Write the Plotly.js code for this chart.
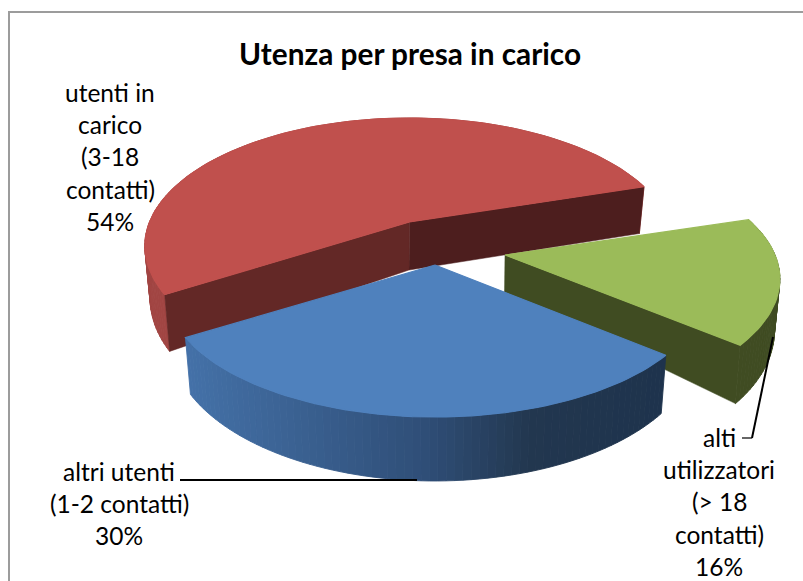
<!DOCTYPE html>
<html>
<head>
<meta charset="utf-8">
<script src="https://cdn.plot.ly/plotly-3.0.1.min.js"></script>
<style>html,body{margin:0;padding:0;background:#fff;overflow:hidden}#chart{width:803px;height:581px}</style>
</head>
<body>
<div id="chart"></div>
<script>
// ---- data ----
const categories = ["altri utenti (1-2 contatti)", "utenti in carico (3-18 contatti)", "alti utilizzatori (> 18 contatti)"];
const values = [30, 54, 16];
const chartTitle = "Utenza per presa in carico";
const labelLines = [
  ["altri utenti", "(1-2 contatti)", "30%"],
  ["utenti in", "carico", "(3-18", "contatti)", "54%"],
  ["alti", "utilizzatori", "(> 18", "contatti)", "16%"]
];

// ---- styles and geometry of the projection ----
const FONT = "Lato, Carlito, 'Open Sans', sans-serif";
const topColors = ["#4F81BD", "#C0504D", "#9BBB59"];
const wallStops = [
  [[0, "#4471A8"], [0.5, "#2F4E77"], [0.72, "#22374F"], [1, "#1E334D"]],
  [[0, "#A14543"], [1, "#A14543"]],
  [[0, "#404C22"], [1, "#404C22"]]
];
// visible cut faces: colour of the face at the start angle and at the end angle (null = hidden)
const cutStart = [null, "#632826", null];
const cutEnd = [null, "#4D1E1E", "#404C22"];
const apex = [[435, 265], [409.5, 222], [505, 255]];
const startAngle = 130;      // degrees clockwise from 12 o'clock, where the first slice begins
const radius = [265, 260, 270];
const K = 123.5, P = 0.1875;
const apexDepth = [48, 48, 37];
const drawOrder = [1, 2, 0];

// ---- helpers ----
const rad = d => d * Math.PI / 180;
const hex = c => [1, 3, 5].map(i => parseInt(c.substr(i, 2), 16));
function mix(stops, t) {
  for (let i = 1; i < stops.length; i++) {
    if (t <= stops[i][0]) {
      const a = stops[i - 1], b = stops[i];
      const f = (t - a[0]) / ((b[0] - a[0]) || 1);
      const A = hex(a[1]), B = hex(b[1]);
      return "rgb(" + A.map((v, j) => Math.round(v + (B[j] - v) * f)).join(",") + ")";
    }
  }
  return stops[stops.length - 1][1];
}
function project(i, deg) {
  const u = Math.sin(rad(deg)), v = -Math.cos(rad(deg));
  const s = 1 / (1 - P * v);
  return [apex[i][0] + radius[i] * u * s, apex[i][1] + K * v * s, s];
}
function lower(i, pt, s) {
  const depth = 47 + 60 * (s - 0.948);
  return [pt[0] - 0.02 * (pt[0] - apex[i][0]), pt[1] + depth];
}
function lowerApex(i) { return [apex[i][0] - 0.5, apex[i][1] + apexDepth[i]]; }
function poly(points, color, w) {
  return {
    type: "scatter", mode: "lines", x: points.map(p => p[0]), y: points.map(p => p[1]),
    fill: "toself", fillcolor: color, line: { color: color, width: w },
    hoverinfo: "skip", showlegend: false
  };
}

// ---- slices derived from the values ----
const total = values.reduce((a, b) => a + b, 0);
let running = startAngle;
const spans = values.map(v => { const a = running; running += v / total * 360; return [a, running]; });

const traces = [];
drawOrder.forEach(i => {
  const [a0, a1] = spans[i];
  const steps = Math.ceil((a1 - a0) / 1.5);
  const arc = [];
  for (let k = 0; k <= steps; k++) arc.push(a0 + (a1 - a0) * k / steps);

  // outer wall, in strips so that it can carry the shading
  const xs = arc.map(d => project(i, d)[0]);
  const xMin = Math.min.apply(null, xs), xMax = Math.max.apply(null, xs);
  for (let k = 0; k < steps; k++) {
    const p = project(i, arc[k]), q = project(i, arc[k + 1]);
    const t = ((p[0] + q[0]) / 2 - xMin) / (xMax - xMin);
    traces.push(poly([p, q, lower(i, q, q[2]), lower(i, p, p[2]), p], mix(wallStops[i], t), 0.9));
  }

  // the cut faces that can be seen
  const A = apex[i], LA = lowerApex(i);
  const pe = project(i, a1), ps = project(i, a0);
  if (cutEnd[i]) traces.push(poly([A, pe, lower(i, pe, pe[2]), LA, A], cutEnd[i], 0.5));
  if (cutStart[i]) traces.push(poly([A, ps, lower(i, ps, ps[2]), LA, A], cutStart[i], 0.5));

  // top surface
  traces.push(poly([A].concat(arc.map(d => project(i, d))).concat([A]), topColors[i], 1.2));
});

// ---- labels ----
const labelCentre = [119, 110, 719];
const labelTop = [471, 92, 437];
const lineStep = 32.4;
const annotations = [{
  x: 410, y: 53, xref: "x", yref: "y", text: "<b>" + chartTitle + "</b>", showarrow: false,
  font: { family: FONT, size: 29.8, color: "#000" }, xanchor: "center", yanchor: "middle"
}];
labelLines.forEach((lines, i) => lines.forEach((t, j) => annotations.push({
  x: labelCentre[i], y: labelTop[i] + j * lineStep, xref: "x", yref: "y", text: t, showarrow: false,
  font: { family: FONT, size: 24.5, color: "#000" }, xanchor: "center", yanchor: "middle"
})));

// ---- frame and leader lines ----
const seg = (x0, y0, x1, y1, color, width) => ({
  type: "line", xref: "x", yref: "y", x0, y0, x1, y1, line: { color, width }
});
const shapes = [
  seg(9, 12, 803, 12, "#9C9C9C", 2),
  seg(9, 11, 9, 581, "#9C9C9C", 2),
  seg(180, 480, 417, 480, "#000", 2),
  seg(773, 337, 752, 438, "#000", 2),
  seg(752, 438, 742, 438, "#000", 1.2)
];

Plotly.newPlot("chart", traces, {
  width: 803, height: 581, margin: { l: 0, r: 0, t: 0, b: 0 },
  paper_bgcolor: "#fff", plot_bgcolor: "#fff", showlegend: false, hovermode: false,
  xaxis: { range: [0, 803], visible: false, fixedrange: true },
  yaxis: { range: [581, 0], visible: false, fixedrange: true },
  annotations, shapes
}, { displayModeBar: false, staticPlot: true });
</script>
</body>
</html>
